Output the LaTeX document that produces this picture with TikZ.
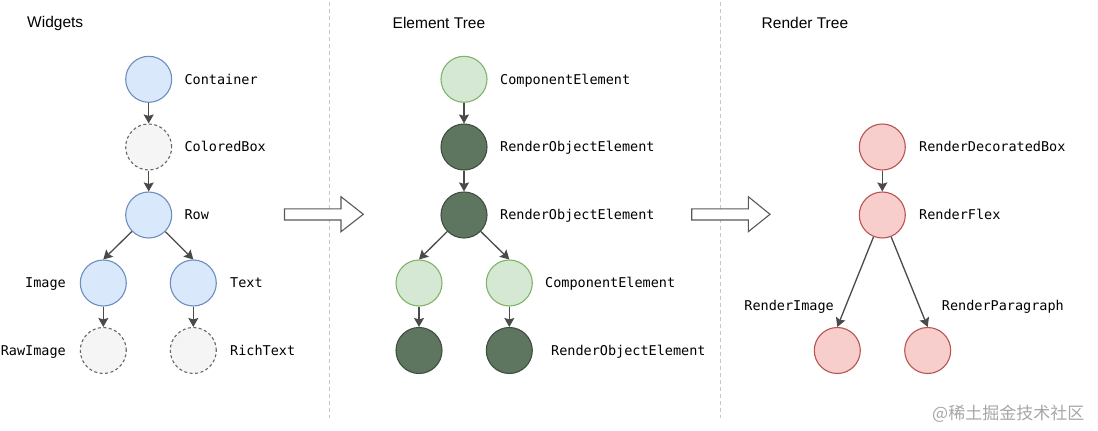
\documentclass[tikz,border=0pt]{standalone}
\usepackage{fontspec}
\setmainfont{Liberation Sans}
\setmonofont{DejaVu Sans Mono}
\newfontfamily\cjkfont{Noto Sans CJK SC}
\usetikzlibrary{arrows.meta}
\definecolor{bluefill}{HTML}{DAE8FC}
\definecolor{blueline}{HTML}{6C8EBF}
\definecolor{greenfill}{HTML}{D5E8D4}
\definecolor{greenline}{HTML}{82B366}
\definecolor{darkfill}{HTML}{5E7660}
\definecolor{darkline}{HTML}{3E4F3F}
\definecolor{redfill}{HTML}{F8CECC}
\definecolor{redline}{HTML}{B85450}
\definecolor{grayfill}{HTML}{F5F5F5}
\definecolor{grayline}{HTML}{666666}
\definecolor{arrowcol}{HTML}{4A4A4A}
\tikzset{
  circ/.style={circle,minimum size=46pt,inner sep=0pt,line width=1.1pt},
  wblue/.style={circ,draw=blueline,fill=bluefill},
  wgray/.style={circ,draw=grayline,fill=grayfill,dash pattern=on 3pt off 2.5pt},
  elight/.style={circ,draw=greenline,fill=greenfill},
  edark/.style={circ,draw=darkline,fill=darkfill},
  rred/.style={circ,draw=redline,fill=redfill},
  lbl/.style={font=\ttfamily\fontsize{13.5}{16}\selectfont,inner sep=0pt,text=black,text height=9.9pt,text depth=0pt},
  hdr/.style={font=\fontsize{15.5}{18}\selectfont,inner sep=0pt,anchor=west,text=black},
  conn/.style={draw=arrowcol,line width=1.3pt,-{Stealth[length=9pt,width=10pt,inset=1.5pt]}},
  sep/.style={draw=black!22,line width=0.8pt,dash pattern=on 4pt off 3pt},
  bigarrow/.style={draw=black!65,line width=1.1pt,fill=white}
}
\begin{document}
\begin{tikzpicture}[x=1pt,y=-1pt]
\useasboundingbox (0,0) rectangle (1098,431);
% separators
\coordinate (s1t) at (329.5,2);
\coordinate (s1b) at (329.5,418);
\coordinate (s2t) at (720.5,2);
\coordinate (s2b) at (720.5,418);
\draw[sep] (s1t) -- (s1b);
\draw[sep] (s2t) -- (s2b);
% headers
\node[hdr] (h1) at (27,23) {Widgets};
\node[hdr] (h2) at (392.5,23) {Element Tree};
\node[hdr] (h3) at (761.5,23) {Render Tree};
% Widgets tree
\node[wblue] (w1) at (148.7,79.3) {};
\node[wgray] (w2) at (148.7,147) {};
\node[wblue] (w3) at (148.7,215) {};
\node[wblue] (w4) at (103.3,283) {};
\node[wblue] (w5) at (193.3,283) {};
\node[wgray] (w6) at (103.3,350.5) {};
\node[wgray] (w7) at (193.3,350.5) {};
\node[lbl,anchor=west] (lw1) at (184.3,79.3) {Container};
\node[lbl,anchor=west] (lw2) at (184.3,147) {ColoredBox};
\node[lbl,anchor=west] (lw3) at (184.3,215) {Row};
\node[lbl,anchor=east] (lw4) at (66,283) {Image};
\node[lbl,anchor=west] (lw5) at (230,283) {Text};
\node[lbl,anchor=east] (lw6) at (66,350.5) {RawImage};
\node[lbl,anchor=west] (lw7) at (230,350.5) {RichText};
\draw[conn] (w1) -- (w2);
\draw[conn] (w2) -- (w3);
\draw[conn] (w3) -- (w4.north);
\draw[conn] (w3) -- (w5.north);
\draw[conn] (w4) -- (w6);
\draw[conn] (w5) -- (w7);
% Element tree
\node[elight] (e1) at (464,79.3) {};
\node[edark] (e2) at (464,147) {};
\node[edark] (e3) at (464,215) {};
\node[elight] (e4) at (419,283) {};
\node[elight] (e5) at (509.3,283) {};
\node[edark] (e6) at (419,350.5) {};
\node[edark] (e7) at (509.3,350.5) {};
\node[lbl,anchor=west] (le1) at (500,79.3) {ComponentElement};
\node[lbl,anchor=west] (le2) at (500,147) {RenderObjectElement};
\node[lbl,anchor=west] (le3) at (500,215) {RenderObjectElement};
\node[lbl,anchor=west] (le5) at (545,283) {ComponentElement};
\node[lbl,anchor=west] (le7) at (551,350.5) {RenderObjectElement};
\draw[conn] (e1) -- (e2);
\draw[conn] (e2) -- (e3);
\draw[conn] (e3) -- (e4.north);
\draw[conn] (e3) -- (e5.north);
\draw[conn] (e4) -- (e6);
\draw[conn] (e5) -- (e7);
% Render tree
\node[rred] (r1) at (882.3,147) {};
\node[rred] (r2) at (882.3,215) {};
\node[rred] (r3) at (837.3,350.5) {};
\node[rred] (r4) at (927.7,350.5) {};
\node[lbl,anchor=west] (lr1) at (919,147) {RenderDecoratedBox};
\node[lbl,anchor=west] (lr2) at (919,215) {RenderFlex};
\node[lbl,anchor=east] (lr3) at (834,305.5) {RenderImage};
\node[lbl,anchor=west] (lr4) at (941.7,305.5) {RenderParagraph};
\draw[conn] (r1) -- (r2);
\draw[conn] (r2) -- (r3.north);
\draw[conn] (r2) -- (r4.north);
% big hollow arrows
\draw[bigarrow] (284.5,208.8) -- (341,208.8) -- (341,196.7) -- (363.3,214.3) -- (341,231.7) -- (341,220) -- (284.5,220) -- cycle;
\draw[bigarrow] (691.7,208.8) -- (748.3,208.8) -- (748.3,196.7) -- (770,214.3) -- (748.3,231.7) -- (748.3,220) -- (691.7,220) -- cycle;
% watermark
\node[font=\cjkfont\fontsize{17}{20}\selectfont,text=black!35,anchor=west,inner sep=0pt] (wm) at (932,414) {@稀土掘金技术社区};
\end{tikzpicture}
\end{document}
